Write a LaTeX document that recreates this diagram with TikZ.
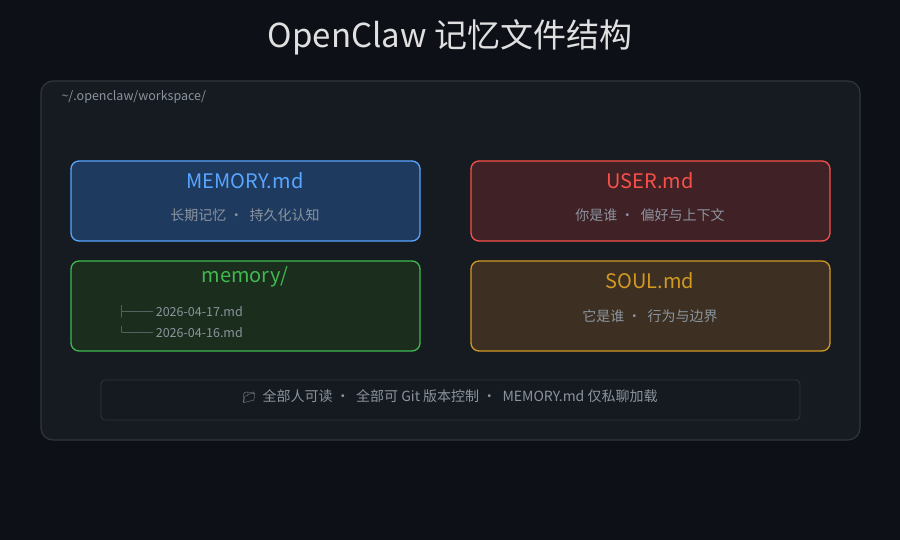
\documentclass[tikz,border=0pt]{standalone}
\usepackage{fontspec}
\setmainfont{Noto Sans CJK SC}
\newfontfamily\emojifont{Noto Emoji}
\definecolor{bgdark}{HTML}{0D1017}
\definecolor{panelfill}{HTML}{161B22}
\definecolor{panelline}{HTML}{30363D}
\definecolor{greytext}{HTML}{8B949E}
\definecolor{blueline}{HTML}{58A6FF}
\definecolor{bluefill}{HTML}{1E3A5F}
\definecolor{redline}{HTML}{F85149}
\definecolor{redfill}{HTML}{402126}
\definecolor{greenline}{HTML}{3FB950}
\definecolor{greenfill}{HTML}{1B2D1C}
\definecolor{orangeline}{HTML}{D29922}
\definecolor{orangefill}{HTML}{3D3022}
\tikzset{
  filebox/.style={draw=#1line,fill=#1fill,line width=1.3pt,rounded corners=8pt},
  filetitle/.style={text=#1line,font=\fontsize{20}{22}\selectfont},
  filenote/.style={text=greytext,font=\fontsize{14}{16}\selectfont},
}
\begin{document}
\begin{tikzpicture}[x=1pt,y=-1pt]
  \fill[bgdark] (0,0) rectangle (900,540);
  \useasboundingbox (0,0) rectangle (900,540);

  \node (title) at (450,37) [text=white!88!black,font=\fontsize{33}{36}\selectfont] {OpenClaw 记忆文件结构};

  % workspace panel
  \draw[panelline,fill=panelfill,line width=1.2pt,rounded corners=12pt] (41,81) rectangle (860,440);
  \node (path) at (58,97) [anchor=west,filenote,font=\fontsize{12.5}{14}\selectfont] {\textasciitilde/.openclaw/workspace/};

  % four files
  \draw[filebox=blue] (71,161) rectangle (420,241);
  \node (memtitle) at (245,181) [filetitle=blue] {MEMORY.md};
  \node (memnote) at (245,215) [filenote] {长期记忆 ·\ \ 持久化认知};

  \draw[filebox=red] (471,161) rectangle (830,241);
  \node (usertitle) at (650,181) [filetitle=red] {USER.md};
  \node (usernote) at (650,215) [filenote] {你是谁 ·\ \ 偏好与上下文};

  \draw[filebox=green] (71,261) rectangle (420,351);
  \node (dirtitle) at (245,277) [filetitle=green] {memory/};
  \node (dayone) at (112,312) [anchor=west,filenote,font=\fontsize{12.5}{14}\selectfont] {├── 2026-04-17.md};
  \node (daytwo) at (112,332) [anchor=west,filenote,font=\fontsize{12.5}{14}\selectfont] {└── 2026-04-16.md};

  \draw[filebox=orange] (471,261) rectangle (830,351);
  \node (soultitle) at (650,281) [filetitle=orange] {SOUL.md};
  \node (soulnote) at (650,316) [filenote] {它是谁 ·\ \ 行为与边界};

  % footer bar
  \draw[panelline,fill=panelfill!85!bgdark,line width=0.8pt,rounded corners=4pt] (101,380) rectangle (800,420);
  \node (footer) at (450,396) [filenote] {{\emojifont\fontsize{11}{12}\selectfont 📁}\ \ 全部人可读 ·\ \ 全部可 Git 版本控制 ·\ \ MEMORY.md 仅私聊加载};
\end{tikzpicture}
\end{document}
